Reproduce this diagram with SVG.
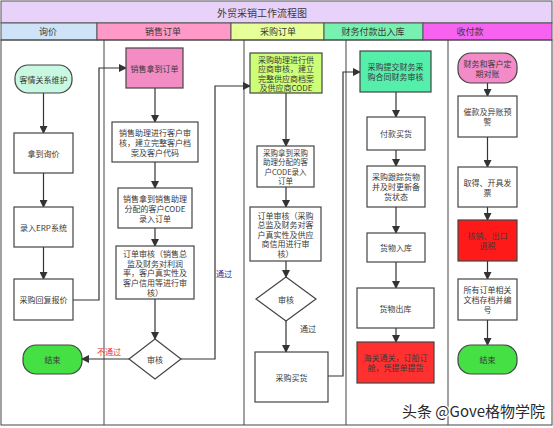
<svg xmlns="http://www.w3.org/2000/svg" width="553" height="428" viewBox="0 0 553 428">
<style>
text{font-family:"Noto Sans CJK SC","Noto Sans",sans-serif;fill:#3a3a3a;text-anchor:middle;dominant-baseline:central}
.t{font-size:8px}
.s{font-size:7.5px}
.h{font-size:9px}
.box{fill:#fff;stroke:#444;stroke-width:1.2}
.lane{stroke:#444;stroke-width:1;fill:none}
.c{fill:none;stroke:#333;stroke-width:1.2}
</style>
<defs>
<marker id="ah" markerWidth="8" markerHeight="8" refX="7" refY="4" orient="auto" markerUnits="userSpaceOnUse">
<path d="M0,0 L8,4 L0,8 z" fill="#333"/>
</marker>
</defs>
<rect x="0" y="0" width="553" height="428" fill="#fff"/>
<g id="header">
<rect x="1" y="1" width="551" height="22" fill="#e8d2fa" stroke="#555"/>
<text x="262" y="12" style="font-size:10px">外贸采销工作流程图</text>
<rect x="1" y="23" width="96" height="17" fill="#cfe3f8" stroke="#555"/>
<rect x="97" y="23" width="134" height="17" fill="#ff99c8" stroke="#555"/>
<rect x="231" y="23" width="93" height="17" fill="#e6ff99" stroke="#555"/>
<rect x="324" y="23" width="99" height="17" fill="#77f0b2" stroke="#555"/>
<rect x="423" y="23" width="129" height="17" fill="#f763f0" stroke="#555"/>
<text class="h" x="48" y="31.5">询价</text>
<text class="h" x="163" y="31.5">销售订单</text>
<text class="h" x="278" y="31.5">采购订单</text>
<text class="h" x="373" y="31.5">财务付款出入库</text>
<text class="h" x="470" y="31.5">收付款</text>
</g>
<g id="lanes">
<rect class="lane" x="1" y="40" width="551" height="385"/>
<line class="lane" x1="104" y1="40" x2="104" y2="425"/>
<line class="lane" x1="244" y1="40" x2="244" y2="425"/>
<line class="lane" x1="346" y1="40" x2="346" y2="425"/>
<line class="lane" x1="448" y1="40" x2="448" y2="425"/>
</g>
<g id="connectors">
<line class="c" x1="43.5" y1="93" x2="43.5" y2="133" marker-end="url(#ah)"/>
<line class="c" x1="43.5" y1="173" x2="43.5" y2="207" marker-end="url(#ah)"/>
<line class="c" x1="43.5" y1="247" x2="43.5" y2="279" marker-end="url(#ah)"/>
<polyline class="c" points="73,300 99,300 99,68 126,68" marker-end="url(#ah)"/>
<line class="c" x1="155" y1="88" x2="155" y2="122" marker-end="url(#ah)"/>
<line class="c" x1="155" y1="162" x2="155" y2="188" marker-end="url(#ah)"/>
<line class="c" x1="155" y1="228" x2="155" y2="246" marker-end="url(#ah)"/>
<line class="c" x1="155" y1="299" x2="155" y2="339" marker-end="url(#ah)"/>
<line class="c" x1="129" y1="359" x2="82" y2="359" marker-end="url(#ah)"/>
<text class="t" x="109" y="351" style="fill:#e53030">不通过</text>
<polyline class="c" points="181,359 215,359 215,86 250,86" marker-end="url(#ah)"/>
<text class="t" x="224" y="273" style="fill:#2a2a9a">通过</text>
<line class="c" x1="286" y1="93" x2="286" y2="146" marker-end="url(#ah)"/>
<line class="c" x1="286" y1="187" x2="286" y2="207" marker-end="url(#ah)"/>
<line class="c" x1="286" y1="261" x2="286" y2="277" marker-end="url(#ah)"/>
<line class="c" x1="286" y1="321" x2="286" y2="352" marker-end="url(#ah)"/>
<text class="t" x="308" y="328">通过</text>
<polyline class="c" points="328,376 343,376 343,72 360,72" marker-end="url(#ah)"/>
<line class="c" x1="396" y1="92" x2="396" y2="117" marker-end="url(#ah)"/>
<line class="c" x1="396" y1="150" x2="396" y2="166" marker-end="url(#ah)"/>
<line class="c" x1="396" y1="207" x2="396" y2="233" marker-end="url(#ah)"/>
<line class="c" x1="396" y1="262" x2="396" y2="288" marker-end="url(#ah)"/>
<line class="c" x1="396" y1="328" x2="396" y2="342" marker-end="url(#ah)"/>
<line class="c" x1="487.5" y1="83" x2="487.5" y2="96" marker-end="url(#ah)"/>
<line class="c" x1="487.5" y1="137" x2="487.5" y2="167" marker-end="url(#ah)"/>
<line class="c" x1="487.5" y1="207" x2="487.5" y2="220" marker-end="url(#ah)"/>
<line class="c" x1="487.5" y1="261" x2="487.5" y2="279" marker-end="url(#ah)"/>
<line class="c" x1="487.5" y1="320" x2="487.5" y2="345" marker-end="url(#ah)"/>
</g>
<g id="n1"><rect class="box" x="15" y="65" width="57" height="28" rx="13" style="fill:#c8f7e2"/><text class="t" x="43.5" y="79">客情关系维护</text></g>
<g id="n2"><rect class="box" x="14" y="133" width="59" height="40"/><text class="t" x="43.5" y="153">拿到询价</text></g>
<g id="n3"><rect class="box" x="14" y="207" width="59" height="40"/><text class="t" x="43.5" y="227">录入ERP系统</text></g>
<g id="n4"><rect class="box" x="14" y="279" width="59" height="41"/><text class="t" x="43.5" y="299.5">采购回复报价</text></g>
<g id="end1"><rect class="box" x="23" y="345" width="59" height="29" rx="13" style="fill:#44e044"/><text class="t" x="52.5" y="359.5">结束</text></g>
<g id="s1"><rect class="box" x="126" y="48" width="57" height="40" style="fill:#f48cc4"/><text class="t" x="154.5" y="68">销售拿到订单</text></g>
<g id="s2"><rect class="box" x="112" y="122" width="86" height="40"/><text class="t" x="155" y="132">销售助理进行客户审</text><text class="t" x="155" y="142">核，建立完整客户档</text><text class="t" x="155" y="152">案及客户代码</text></g>
<g id="s3"><rect class="box" x="118" y="188" width="74" height="40"/><text class="t" x="155" y="198">销售拿到销售助理</text><text class="t" x="155" y="208">分配的客户CODE</text><text class="t" x="155" y="218">录入订单</text></g>
<g id="s4"><rect class="box" x="116" y="246" width="78" height="53"/><text class="t" x="155" y="253">订单审核（销售总</text><text class="t" x="155" y="263">监及财务对利润</text><text class="t" x="155" y="272.5">率，客户真实性及</text><text class="t" x="155" y="282">客户信用等进行审</text><text class="t" x="155" y="292">核）</text></g>
<g id="d1"><polygon class="box" points="155,339 181,359 155,379 129,359"/><text class="t" x="155" y="359">审核</text></g>
<g id="p1"><rect class="box" x="250" y="53" width="72" height="40" style="fill:#ccff77"/><text class="t" x="286" y="59">采购助理进行供</text><text class="t" x="286" y="68.5">应商审核，建立</text><text class="t" x="286" y="78">完整供应商档案</text><text class="t" x="286" y="87.5">及供应商CODE</text></g>
<g id="p2"><rect class="box" x="257" y="146" width="57" height="41"/><text class="s" x="285.5" y="152">采购拿到采购</text><text class="s" x="285.5" y="161.5">助理分配的客</text><text class="s" x="285.5" y="171">户CODE录入</text><text class="s" x="285.5" y="180.5">订单</text></g>
<g id="p3"><rect class="box" x="250" y="207" width="71" height="54"/><text class="t" x="285.5" y="215">订单审核（采购</text><text class="t" x="285.5" y="224.5">总监及财务对客</text><text class="t" x="285.5" y="234">户真实性及供应</text><text class="t" x="285.5" y="243.5">商信用进行审</text><text class="t" x="285.5" y="253">核）</text></g>
<g id="d2"><polygon class="box" points="286,277 316,299 286,321 256,299"/><text class="t" x="286" y="299">审核</text></g>
<g id="p4"><rect class="box" x="255" y="352" width="73" height="50"/><text class="t" x="291.5" y="377">采购买货</text></g>
<g id="f1"><rect class="box" x="360" y="51" width="71" height="41" style="fill:#55eeaa"/><text class="t" x="395.5" y="66.5">采购提交财务采</text><text class="t" x="395.5" y="76.5">购合同财务审核</text></g>
<g id="f2"><rect class="box" x="367" y="117" width="58" height="33"/><text class="t" x="396" y="133.5">付款买货</text></g>
<g id="f3"><rect class="box" x="367" y="166" width="58" height="41"/><text class="t" x="396" y="176.5">采购跟踪货物</text><text class="t" x="396" y="186.5">并及时更新备</text><text class="t" x="396" y="196.5">货状态</text></g>
<g id="f4"><rect class="box" x="367" y="233" width="58" height="29"/><text class="t" x="396" y="247.5">货物入库</text></g>
<g id="f5"><rect class="box" x="357" y="288" width="77" height="40"/><text class="t" x="395.5" y="308">货物出库</text></g>
<g id="f6"><rect class="box" x="357" y="342" width="77" height="41" style="fill:#ff3030"/><text class="t" x="395.5" y="357.5">海关通关，订船订</text><text class="t" x="395.5" y="367.5">舱，凭提单提货</text></g>
<g id="r1"><rect class="box" x="458" y="53" width="59" height="30" rx="13" style="fill:#f38bc8"/><text class="t" x="487.5" y="63">财务和客户定</text><text class="t" x="487.5" y="73">期对账</text></g>
<g id="r2"><rect class="box" x="458" y="96" width="59" height="41"/><text class="t" x="487.5" y="111.5">催款及异账预</text><text class="t" x="487.5" y="121.5">警</text></g>
<g id="r3"><rect class="box" x="458" y="167" width="59" height="40"/><text class="t" x="487.5" y="182">取得、开具发</text><text class="t" x="487.5" y="192">票</text></g>
<g id="r4"><rect class="box" x="458" y="220" width="59" height="41" style="fill:#ff1a1a"/><text class="t" x="487.5" y="235.5">核销、出口</text><text class="t" x="487.5" y="245.5">退税</text></g>
<g id="r5"><rect class="box" x="458" y="279" width="59" height="41"/><text class="t" x="487.5" y="289.5">所有订单相关</text><text class="t" x="487.5" y="299.5">文档存档并编</text><text class="t" x="487.5" y="309.5">号</text></g>
<g id="end2"><rect class="box" x="458" y="345" width="59" height="29" rx="13" style="fill:#44e044"/><text class="t" x="487.5" y="359.5">结束</text></g>
<text x="402" y="410" style="font-size:15px;text-anchor:start;fill:#2a2a2a;stroke:#fff;stroke-width:2.5px;paint-order:stroke">头条 @Gove格物学院</text>
</svg>
